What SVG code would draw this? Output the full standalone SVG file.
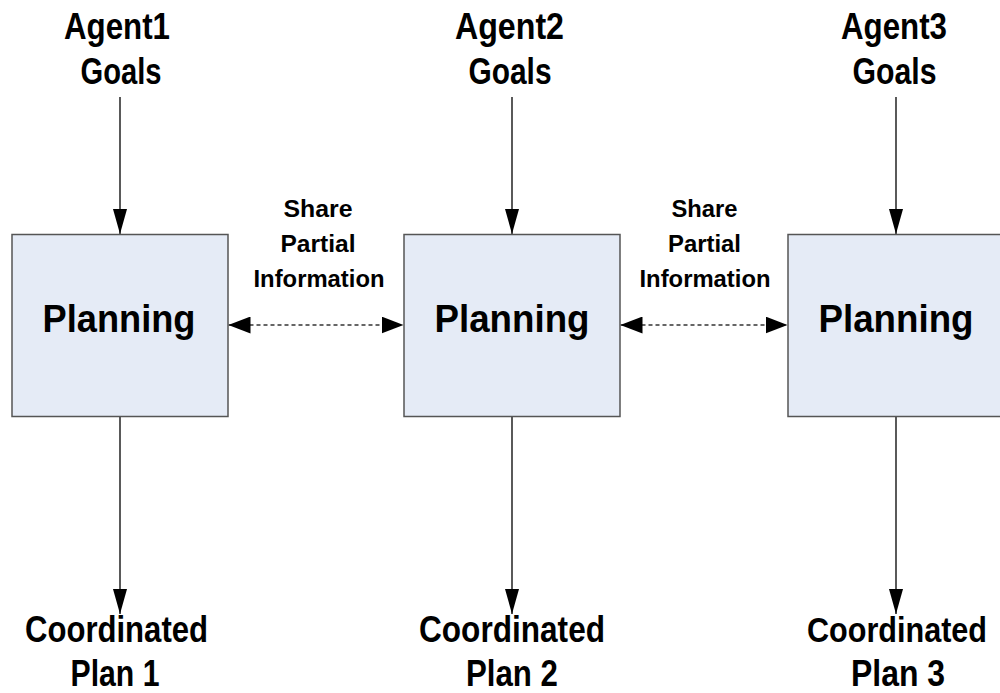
<svg xmlns="http://www.w3.org/2000/svg" width="1000" height="693" viewBox="0 0 1000 693">
  <style>
    .lbl { font-family: "Liberation Sans", Arial, sans-serif; font-weight: bold; fill: #000; text-anchor: middle; }
    .big { font-size: 36px; }
    .plan { font-size: 38px; }
    .small { font-size: 24px; }
    .box { fill: #e5ebf6; stroke: #555; stroke-width: 1.5; }
    .solid { stroke: #000; stroke-width: 1.3; fill: none; marker-end: url(#arrV); }
    .dash { stroke: #666; stroke-width: 2; stroke-dasharray: 4 3; fill: none; marker-start: url(#arrH); marker-end: url(#arrH); }
  </style>
  <defs>
    <marker id="arrV" markerUnits="userSpaceOnUse" viewBox="0 0 25 14" refX="25" refY="7" markerWidth="25" markerHeight="14" orient="auto">
      <path d="M0,0 L25,7 L0,14 z" fill="#000" stroke="none"/>
    </marker>
    <marker id="arrH" markerUnits="userSpaceOnUse" viewBox="0 0 22 17" refX="22" refY="8.5" markerWidth="22" markerHeight="17" orient="auto-start-reverse">
      <path d="M0,0 L22,8.5 L0,17 z" fill="#000" stroke="none"/>
    </marker>
  </defs>
  <rect width="1000" height="693" fill="#fff"/>

  <g id="connectors">
    <line class="solid" x1="120" y1="97" x2="120" y2="234"/>
    <line class="solid" x1="512" y1="97" x2="512" y2="234"/>
    <line class="solid" x1="896" y1="97" x2="896" y2="234"/>
    <line class="solid" x1="120" y1="417" x2="120" y2="614"/>
    <line class="solid" x1="512" y1="417" x2="512" y2="614"/>
    <line class="solid" x1="896" y1="417" x2="896" y2="614"/>
    <line class="dash" x1="228.5" y1="325" x2="403.5" y2="325"/>
    <line class="dash" x1="620.5" y1="325" x2="787.5" y2="325"/>
  </g>

  <g id="goals1">
    <text class="lbl big" x="117" y="39" textLength="106" lengthAdjust="spacingAndGlyphs">Agent1</text>
    <text class="lbl big" x="121" y="84" textLength="81" lengthAdjust="spacingAndGlyphs">Goals</text>
  </g>
  <g id="goals2">
    <text class="lbl big" x="509.5" y="39" textLength="109" lengthAdjust="spacingAndGlyphs">Agent2</text>
    <text class="lbl big" x="510" y="84" textLength="83" lengthAdjust="spacingAndGlyphs">Goals</text>
  </g>
  <g id="goals3">
    <text class="lbl big" x="894" y="39" textLength="106" lengthAdjust="spacingAndGlyphs">Agent3</text>
    <text class="lbl big" x="894.5" y="84" textLength="84" lengthAdjust="spacingAndGlyphs">Goals</text>
  </g>

  <g id="planning1">
    <rect class="box" x="12" y="234.5" width="216" height="182"/>
    <text class="lbl plan" x="119" y="332" textLength="153" lengthAdjust="spacingAndGlyphs">Planning</text>
  </g>
  <g id="planning2">
    <rect class="box" x="404" y="234.5" width="216" height="182"/>
    <text class="lbl plan" x="512" y="332" textLength="155" lengthAdjust="spacingAndGlyphs">Planning</text>
  </g>
  <g id="planning3">
    <rect class="box" x="788" y="234.5" width="216" height="182"/>
    <text class="lbl plan" x="896" y="332" textLength="155" lengthAdjust="spacingAndGlyphs">Planning</text>
  </g>

  <g id="share1">
    <text class="lbl small" x="318" y="217" textLength="69" lengthAdjust="spacingAndGlyphs">Share</text>
    <text class="lbl small" x="318" y="252" textLength="75" lengthAdjust="spacingAndGlyphs">Partial</text>
    <text class="lbl small" x="319" y="287" textLength="131" lengthAdjust="spacingAndGlyphs">Information</text>
  </g>
  <g id="share2">
    <text class="lbl small" x="704.5" y="217" textLength="66" lengthAdjust="spacingAndGlyphs">Share</text>
    <text class="lbl small" x="704.5" y="252" textLength="73" lengthAdjust="spacingAndGlyphs">Partial</text>
    <text class="lbl small" x="705" y="287" textLength="131" lengthAdjust="spacingAndGlyphs">Information</text>
  </g>

  <g id="plan1">
    <text class="lbl big" x="116.5" y="642" textLength="183" lengthAdjust="spacingAndGlyphs">Coordinated</text>
    <text class="lbl big" x="115" y="686" textLength="89" lengthAdjust="spacingAndGlyphs">Plan 1</text>
  </g>
  <g id="plan2">
    <text class="lbl big" x="512" y="642" textLength="186" lengthAdjust="spacingAndGlyphs">Coordinated</text>
    <text class="lbl big" x="512" y="686" textLength="92" lengthAdjust="spacingAndGlyphs">Plan 2</text>
  </g>
  <g id="plan3">
    <text class="lbl big" transform="translate(897,642) scale(0.85,1)" x="0" y="0">Coordinated</text>
    <text class="lbl big" x="898" y="686" textLength="94" lengthAdjust="spacingAndGlyphs">Plan 3</text>
  </g>
</svg>
